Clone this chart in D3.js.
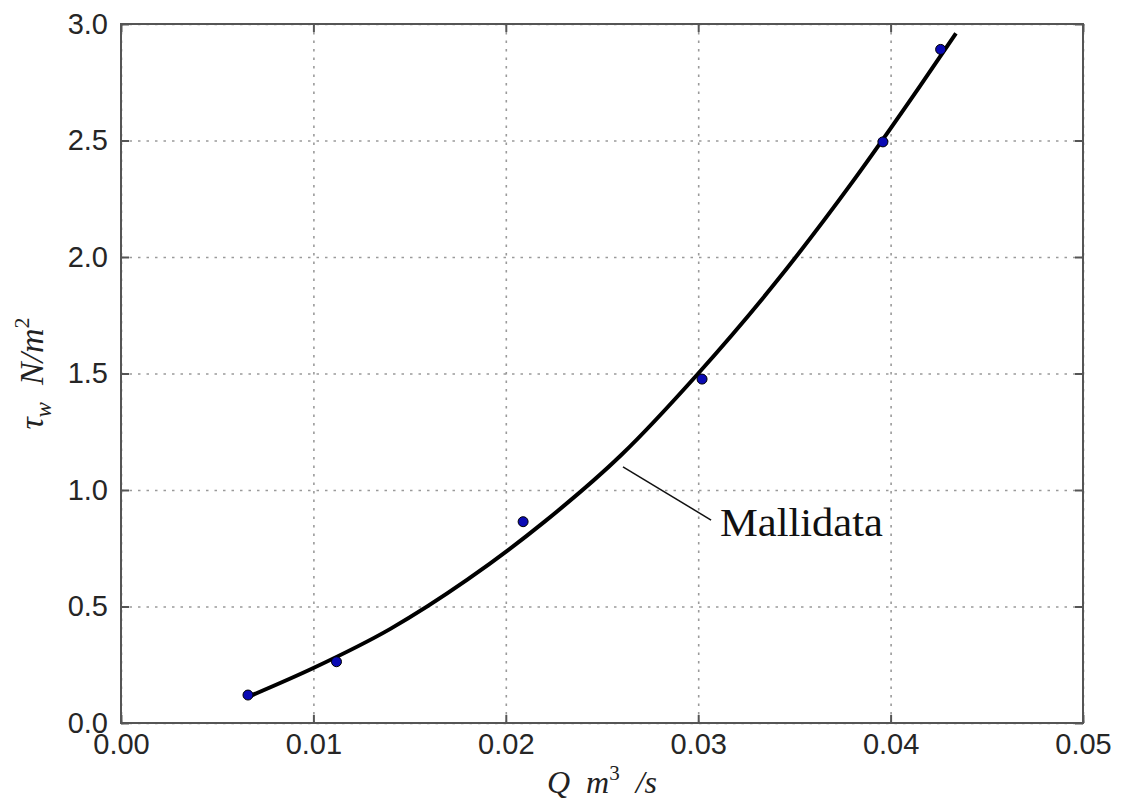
<!DOCTYPE html>
<html>
<head>
<meta charset="utf-8">
<script src="https://cdn.jsdelivr.net/npm/d3@7"></script>
<style>
  body { margin: 0; background: #fff; }
  .tick text { font-family: "Liberation Sans", Arial, sans-serif; font-size: 29px; fill: #262626; }
  .grid line { stroke: #9a9a9a; stroke-width: 1.6; stroke-dasharray: 2.5 6; }
  .grid path { display: none; }
  .math { font-family: "Liberation Serif", "Times New Roman", serif; font-style: italic; fill: #222; }
</style>
</head>
<body>
<div id="chart"></div>
<script>
// measured points
const qData = [0.0066, 0.0112, 0.0209, 0.0302, 0.0396, 0.0426];
const tauData = [0.120, 0.263, 0.864, 1.476, 2.494, 2.891];

// fitted curve
const qFit = [0.0066, 0.0100, 0.0140, 0.0180, 0.0220, 0.0260, 0.0300, 0.0340, 0.0380, 0.0415, 0.0434];
const tauFit = [0.112, 0.236, 0.404, 0.615, 0.863, 1.150, 1.500, 1.888, 2.320, 2.730, 2.960];

const xTicks = [0.00, 0.01, 0.02, 0.03, 0.04, 0.05];
const yTicks = [0.0, 0.5, 1.0, 1.5, 2.0, 2.5, 3.0];

// annotation: line from curve to label, in data coords
const annoLabel = "Mallidata";
const annoFrom = [0.02609, 1.099];
const annoTo = [0.03067, 0.871];
const annoText = [0.03113, 0.803];

const W = 1121, H = 805;
const margin = { top: 24, right: 38, bottom: 82, left: 121 };
const width = W - margin.left - margin.right;
const height = H - margin.top - margin.bottom;

const svg = d3.select('#chart')
    .append("svg")
    .attr("width", W)
    .attr("height", H);

const g = svg.append("g")
    .attr("transform", `translate(${margin.left},${margin.top})`);

const x = d3.scaleLinear().domain([0, 0.05]).range([0, width]);
const y = d3.scaleLinear().domain([0, 3.0]).range([height, 0]);

// Grid lines
g.append("g")
    .attr("class", "grid")
    .attr("transform", `translate(0,${height})`)
    .call(d3.axisBottom(x).tickValues(xTicks).tickSize(-height).tickFormat(""));

g.append("g")
    .attr("class", "grid")
    .call(d3.axisLeft(y).tickValues(yTicks).tickSize(-width).tickFormat(""));

// Axes with inward ticks on all sides
function styleAxis(sel) {
    sel.select(".domain").remove();
    sel.selectAll(".tick line").attr("stroke", "#555").attr("stroke-width", 2);
}

g.append("g")
    .attr("transform", `translate(0,${height})`)
    .call(d3.axisBottom(x).tickValues(xTicks).tickSize(-8).tickPadding(10).tickFormat(d3.format(".2f")))
    .call(styleAxis);

g.append("g")
    .call(d3.axisTop(x).tickValues(xTicks).tickSize(-8).tickFormat(""))
    .call(styleAxis);

g.append("g")
    .call(d3.axisLeft(y).tickValues(yTicks).tickSize(-8).tickPadding(13).tickFormat(d3.format(".1f")))
    .call(styleAxis);

g.append("g")
    .attr("transform", `translate(${width},0)`)
    .call(d3.axisRight(y).tickValues(yTicks).tickSize(-8).tickFormat(""))
    .call(styleAxis);

// Frame
g.append("rect")
    .attr("width", width)
    .attr("height", height)
    .attr("fill", "none")
    .attr("stroke", "#555")
    .attr("stroke-width", 2);

// Fitted curve
const fit = qFit.map((q, i) => [q, tauFit[i]]);
g.append("path")
    .datum(fit)
    .attr("fill", "none")
    .attr("stroke", "#000")
    .attr("stroke-width", 4)
    .attr("d", d3.line().x(d => x(d[0])).y(d => y(d[1])).curve(d3.curveMonotoneX));

// Data points
g.selectAll(".dot")
    .data(qData.map((q, i) => [q, tauData[i]]))
    .enter()
    .append("circle")
    .attr("cx", d => x(d[0]))
    .attr("cy", d => y(d[1]))
    .attr("r", 5)
    .attr("fill", "#0a0ab4")
    .attr("stroke", "#000")
    .attr("stroke-width", 1);

// Annotation
g.append("line")
    .attr("x1", x(annoFrom[0])).attr("y1", y(annoFrom[1]))
    .attr("x2", x(annoTo[0])).attr("y2", y(annoTo[1]))
    .attr("stroke", "#111")
    .attr("stroke-width", 1.5);

g.append("text")
    .attr("x", x(annoText[0]))
    .attr("y", y(annoText[1]))
    .attr("textLength", 163)
    .attr("lengthAdjust", "spacingAndGlyphs")
    .style("font-family", "'Liberation Serif', 'Times New Roman', serif")
    .style("font-size", "39px")
    .style("fill", "#111")
    .text(annoLabel);

// X axis label: Q m^3 /s
const xl = svg.append("text")
    .attr("class", "math")
    .attr("x", margin.left + width / 2)
    .attr("y", 793)
    .attr("text-anchor", "middle")
    .style("font-size", "32px");
xl.append("tspan").text("Q\u2002m");
xl.append("tspan").attr("dy", -13).style("font-size", "21px").style("font-style", "normal").text("3");
xl.append("tspan").attr("dy", 13).text("\u2002/s");

// Y axis label: tau_w N/m^2
const yl = svg.append("text")
    .attr("class", "math")
    .attr("transform", `translate(43,${margin.top + height / 2}) rotate(-90)`)
    .attr("text-anchor", "middle")
    .style("font-size", "34px");
yl.append("tspan").text("τ");
yl.append("tspan").attr("dy", 8).style("font-size", "23px").text("w");
yl.append("tspan").attr("dy", -8).text("\u2002N/m");
yl.append("tspan").attr("dy", -14).style("font-size", "22px").style("font-style", "normal").text("2");
</script>
</body>
</html>
